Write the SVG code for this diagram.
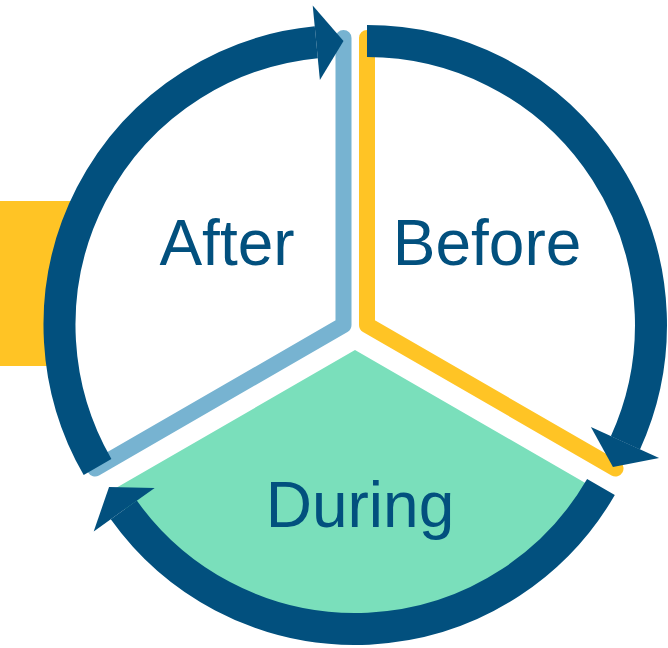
<svg xmlns="http://www.w3.org/2000/svg" width="668" height="648" viewBox="0 0 668 648">
  <style>
    .arc { fill: none; stroke: #02507E; stroke-width: 32; stroke-linecap: butt; }
    .head { fill: #02507E; stroke: none; }
    .edge { fill: none; stroke-width: 16; stroke-linecap: round; stroke-linejoin: round; }
    .label { font-family: "Liberation Sans", Arial, sans-serif; font-size: 64px; fill: #02507E; text-anchor: middle; }
  </style>
  <rect id="side-bar" x="0" y="201" width="100" height="165" fill="#FFC425"/>
  <g id="after">
    <path d="M 343.5 325 L 95 468.5 A 287 287 0 0 1 343.5 38 Z" fill="#FFFFFF"/>
    <path class="edge" stroke="#77B3D1" d="M 95 468.5 L 343.5 325 L 343.5 38"/>
    <text class="label" x="227" y="265">After</text>
  </g>
  <g id="before">
    <path d="M 367 325 L 367 38 A 287 287 0 0 1 615.5 468.5 Z" fill="#FFFFFF"/>
    <path class="edge" stroke="#FFC425" d="M 367 38 L 367 325 L 615.5 468.5"/>
    <text class="label" x="487" y="265">Before</text>
  </g>
  <g id="during">
    <path d="M 355 350 L 597.5 490 A 280 280 0 0 1 112.5 490 Z" fill="#7ADFBB"/>
    <text class="label" x="360" y="527">During</text>
  </g>
  <g id="connectors">
    <path class="arc" d="M 97.55 467 A 284 284 0 0 1 316.3 42.3"/>
    <polygon class="head" points="319.9,80.1 312.7,5.5 343.5,41"/>
    <path class="arc" d="M 367 41 A 284 284 0 0 1 625.4 442.8"/>
    <polygon class="head" points="590.9,427 659.1,458.1 612.95,467"/>
    <path class="arc" d="M 600.95 487 A 284 284 0 0 1 123.8 509.9"/>
    <polygon class="head" points="154.7,487.9 93.7,531.4 109.05,487"/>
  </g>
</svg>
